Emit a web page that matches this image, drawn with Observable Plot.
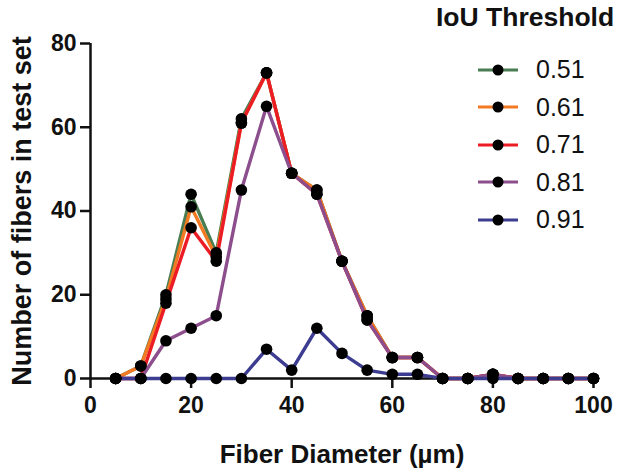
<!DOCTYPE html>
<html>
<head>
<meta charset="utf-8">
<script src="https://cdn.jsdelivr.net/npm/d3@7"></script>
<script src="https://cdn.jsdelivr.net/npm/@observablehq/plot@0.6"></script>
<style>
  html, body { margin: 0; padding: 0; background: #fff; }
  #wrap { position: relative; width: 620px; height: 468px; font-family: "Liberation Sans", Arial, sans-serif; }
  #legend { position: absolute; left: 436px; top: 2px; }
  #legend .title { font-weight: bold; font-size: 26.5px; color: #111; white-space: nowrap; }
  #legend .row { display: flex; align-items: center; height: 37.5px; margin-left: 42px; }
  #legend .row span { font-size: 25px; color: #111; margin-left: 18px; }
</style>
</head>
<body>
<div id="wrap"><div id="chart"></div><div id="legend"></div></div>
<script>
const diameters = [5,10,15,20,25,30,35,40,45,50,55,60,65,70,75,80,85,90,95,100];
const thresholds = ["0.51","0.61","0.71","0.81","0.91"];
const colors = ["#4a7d52","#f37a22","#ec1c24","#8c4e8c","#3c3c90"];
const v051 = [0,3,20,44,30,62,73,49,45,28,15,5,5,0,0,1,0,0,0,0];
const v061 = [0,3,19,41,29,61,73,49,45,28,15,5,5,0,0,1,0,0,0,0];
const v071 = [0,0,18,36,28,61,73,49,44,28,14,5,5,0,0,1,0,0,0,0];
const v081 = [0,0,9,12,15,45,65,49,44,28,14,5,5,0,0,1,0,0,0,0];
const v091 = [0,0,0,0,0,0,7,2,12,6,2,1,1,0,0,0,0,0,0,0];
const series = [v051, v061, v071, v081, v091];
const yTicks = [0,20,40,60,80];
const xTicks = [0,20,40,60,80,100];

const data = [];
series.forEach((vals, i) => vals.forEach((v, j) => data.push({threshold: thresholds[i], d: diameters[j], n: v})));

const chart = Plot.plot({
  width: 620,
  height: 468,
  marginLeft: 90,
  marginRight: 27,
  marginTop: 43,
  marginBottom: 90,
  style: {fontFamily: "Liberation Sans, Arial, sans-serif", fontWeight: "bold", color: "#111", background: "#fff"},
  x: {domain: [0, 100]},
  y: {domain: [0, 80]},
  color: {domain: thresholds, range: colors},
  marks: [
    Plot.axisX({ticks: xTicks, tickSize: 10, tickPadding: 8, tickFormat: d => d, strokeWidth: 2.5, fontSize: 23, label: null}),
    Plot.axisX({ticks: [], label: "Fiber Diameter (µm)", labelAnchor: "center", labelArrow: "none", labelOffset: 84, fontSize: 26}),
    Plot.axisY({ticks: yTicks, tickSize: 10, tickPadding: 4, tickFormat: d => d, strokeWidth: 2.5, fontSize: 23, label: null}),
    Plot.axisY({ticks: [], label: "Number of fibers in test set", labelAnchor: "center", labelArrow: "none", labelOffset: 79, fontSize: 27}),
    Plot.ruleX([0], {y1: 0, y2: 80, strokeWidth: 2.5, stroke: "#111"}),
    Plot.ruleY([0], {x1: 0, x2: 100, strokeWidth: 2.5, stroke: "#111"}),
    Plot.line(data, {x: "d", y: "n", z: "threshold", stroke: "threshold", strokeWidth: 3.4}),
    Plot.dot(data, {x: "d", y: "n", r: 5.8, fill: "#000", stroke: "none"})
  ]
});
document.getElementById("chart").appendChild(chart);

const legend = document.getElementById("legend");
const title = document.createElement("div");
title.className = "title";
title.textContent = "IoU Threshold";
title.style.marginBottom = "18px";
legend.appendChild(title);
thresholds.forEach((t, i) => {
  const row = document.createElement("div");
  row.className = "row";
  row.innerHTML = `<svg width="40" height="14"><line x1="0" x2="40" y1="7" y2="7" stroke="${colors[i]}" stroke-width="3"/><circle cx="20" cy="7" r="5.5" fill="#000"/></svg><span>${t}</span>`;
  legend.appendChild(row);
});
</script>
</body>
</html>
